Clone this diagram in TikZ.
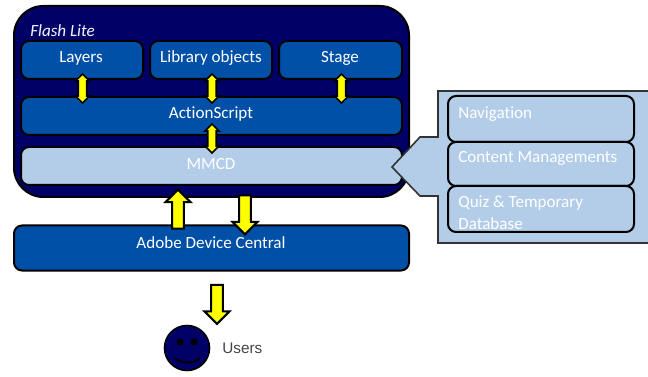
\documentclass[tikz,border=0pt]{standalone}
\usepackage{fontspec}
\setmainfont[RawFeature=-liga]{Carlito}
\newfontfamily\userfont{Liberation Sans}
\usetikzlibrary{shapes.arrows}
\definecolor{navy}{HTML}{000066}
\definecolor{midblue}{HTML}{0050A8}
\definecolor{lightblue}{HTML}{B3CDE9}
\definecolor{arrowyellow}{HTML}{FFFF00}
\definecolor{usergrey}{HTML}{444444}
\tikzset{
  x=0.75pt, y=-0.75pt,
  lab/.style={text=white, font=\fontsize{12.8}{15}\selectfont, inner sep=0pt},
  bluebox/.style={draw=black, line width=1.5pt, fill=midblue, rounded corners=6pt, inner sep=0pt},
  lightbox/.style={bluebox, fill=lightblue},
  updown/.style={double arrow, shape border rotate=90, draw=black, line width=1.2pt, fill=arrowyellow,
    minimum height=29*0.75pt, minimum width=14*0.75pt, inner sep=2.5pt, double arrow head extend=2pt},
  bigarrow/.style={single arrow, draw=black, line width=1.5pt, fill=arrowyellow,
    minimum height=39*0.75pt, minimum width=25*0.75pt, inner sep=3.6pt, single arrow head extend=5pt},
}
\begin{document}
\begin{tikzpicture}
\useasboundingbox (0,0) rectangle (648,377);
% outer Flash Lite panel
\node[draw=black, line width=1.5pt, fill=navy, rounded corners=22pt, inner sep=0pt,
  minimum width=395*0.75pt, minimum height=191*0.75pt] (flash) at (211.5,101.5) {};
\node[lab, anchor=west, text=white!85!lightblue, font=\fontsize{12.8}{15}\selectfont\itshape] (flashlab) at (30,30.5) {Flash Lite};
% inner boxes
\node[bluebox, minimum width=122*0.75pt, minimum height=38*0.75pt] (layers) at (82,60) {};
\node[bluebox, minimum width=122*0.75pt, minimum height=38*0.75pt] (library) at (211,60) {};
\node[bluebox, minimum width=123*0.75pt, minimum height=38*0.75pt] (stage) at (340.5,60) {};
\node[bluebox, minimum width=381*0.75pt, minimum height=38*0.75pt] (action) at (211.5,116) {};
\node[lightbox, minimum width=381*0.75pt, minimum height=38*0.75pt] (mmcd) at (211.5,166) {};
\node[lab] (layerslab) at (81,58) {Layers};
\node[lab] (librarylab) at (211,58) {Library objects};
\node[lab] (stagelab) at (340,58) {Stage};
\node[lab] (actionlab) at (211,114) {ActionScript};
\node[lab] (mmcdlab) at (211,164) {MMCD};
% bidirectional arrows
\node[updown] (a1) at (82.5,88.5) {};
\node[updown] (a2) at (212,88.5) {};
\node[updown] (a3) at (341.5,88.5) {};
\node[updown] (a4) at (212,138.5) {};
% Adobe Device Central
\node[bluebox, minimum width=395*0.75pt, minimum height=45*0.75pt] (adobe) at (211.5,248) {};
\node[lab] (adobelab) at (211,243) {Adobe Device Central};
\node[bigarrow, shape border rotate=90] (up) at (178,212) {};
\node[bigarrow, shape border rotate=270] (down) at (245,212) {};
\node[bigarrow, shape border rotate=270] (out) at (217,301.5) {};
% user
\node[circle, draw=black, line width=1.2pt, fill=navy, minimum size=45*0.75pt, inner sep=0pt] (user) at (187,348) {};
\fill[black] (180,342) circle[radius=3.5] (194,342) circle[radius=3.5];
\draw[black, line width=1.5pt] (175,358) .. controls (181,364) and (194,364) .. (200,358);
\node[lab, text=usergrey, anchor=west, font=\userfont\fontsize{11.5}{14}\selectfont] (userlab) at (222,348.5) {Users};
% callout
\draw[black!80, line width=1.2pt, fill=lightblue]
  (649,91) -- (438,91) -- (438,137) -- (420,137) -- (392,167) -- (420,196) -- (438,196) -- (438,243) -- (649,243);
\node[lightbox, minimum width=186*0.75pt, minimum height=46*0.75pt] (nav) at (541,119) {};
\node[lightbox, minimum width=186*0.75pt, minimum height=44*0.75pt] (content) at (541,164) {};
\node[lightbox, minimum width=186*0.75pt, minimum height=46*0.75pt] (quiz) at (541,209) {};
\node[lab, anchor=west] (navlab) at (458,114) {Navigation};
\node[lab, anchor=west] (contentlab) at (458,158.5) {Content Managements};
\node[lab, anchor=west] (quizlab) at (458,203.5) {Quiz \& Temporary};
\node[lab, anchor=west] (dblab) at (458,224) {Database};
\end{tikzpicture}
\end{document}
